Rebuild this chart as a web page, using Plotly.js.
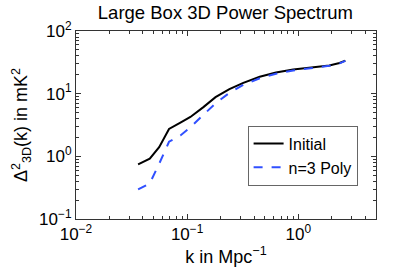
<!DOCTYPE html>
<html>
<head>
<meta charset="utf-8">
<script src="https://cdn.plot.ly/plotly-3.0.1.min.js"></script>
<style>html,body{margin:0;padding:0;background:#fff;}</style>
</head>
<body>
<div id="chart" style="width:415px;height:272px;"></div>
<script>
// k in Mpc^-1
const k = [0.0362, 0.0461, 0.0560, 0.0687, 0.0870, 0.107, 0.14, 0.18, 0.24, 0.32, 0.45, 0.63, 0.90, 1.30, 1.90, 2.35, 2.65];
// Delta^2_3D(k) in mK^2
const initialVals = [0.745, 0.916, 1.40, 2.73, 3.45, 4.25, 6.1, 8.8, 11.8, 14.9, 18.6, 21.8, 24.3, 26.0, 28.2, 30.8, 33.6];
const polyVals = [0.296, 0.370, 0.76, 1.71, 2.15, 2.9, 4.6, 7.0, 10.3, 13.8, 17.6, 20.8, 23.5, 25.5, 27.8, 30.4, 33.3];

const seriesNames = ['Initial', 'n=3 Poly'];
const xTickVals = [0.01, 0.1, 1];
const xTickText = ['10<sup>\u22122</sup>', '10<sup>\u22121</sup>', '10<sup>0</sup>'];
const yTickVals = [0.1, 1, 10, 100];
const yTickText = ['10<sup>\u22121</sup>', '10<sup>0</sup>', '10<sup>1</sup>', '10<sup>2</sup>'];

function minorTicks(lo, hi) {
  const out = [];
  for (let e = lo; e < hi; e++) {
    for (let m = 2; m <= 9; m++) out.push(m * Math.pow(10, e));
  }
  return out;
}

const fam = 'Liberation Sans, Arial, Helvetica, sans-serif';
const font = {family: fam, size: 17, color: '#000'};
const titleFont = {family: fam, size: 18.5, color: '#000'};
const labelFont = {family: fam, size: 18, color: '#000'};
const axColor = '#333';

const traces = [
  {x: k, y: initialVals, name: seriesNames[0], mode: 'lines', type: 'scatter',
   line: {color: '#000000', width: 2}},
  {x: k, y: polyVals, name: seriesNames[1], mode: 'lines', type: 'scatter',
   line: {color: '#3050ff', width: 2, dash: 'dash'}}
];

const axisCommon = {
  type: 'log', showgrid: false, zeroline: false,
  showline: true, linecolor: axColor, linewidth: 1, mirror: 'allticks',
  ticks: 'inside', ticklen: 5, tickcolor: axColor, tickwidth: 1,
  tickfont: font, tickmode: 'array'
};

const layout = {
  width: 415, height: 272,
  margin: {l: 76, r: 39, t: 31, b: 53},
  paper_bgcolor: '#fff', plot_bgcolor: '#fff',
  font: font,
  showlegend: true,
  title: {text: 'Large Box 3D Power Spectrum', font: titleFont,
          x: 0.543, xanchor: 'center', y: 0.955, yanchor: 'middle', yref: 'container'},
  xaxis: Object.assign({}, axisCommon, {
    range: [-2, Math.log10(5)],
    tickvals: xTickVals, ticktext: xTickText,
    minor: {tickmode: 'array', tickvals: minorTicks(-2, 1), ticks: 'inside', ticklen: 3, tickcolor: axColor, showgrid: false},
    title: {text: 'k in Mpc<sup>\u22121</sup>', font: labelFont, standoff: 4}
  }),
  yaxis: Object.assign({}, axisCommon, {
    range: [-1, 2],
    tickvals: yTickVals, ticktext: yTickText,
    minor: {tickmode: 'array', tickvals: minorTicks(-1, 2), ticks: 'inside', ticklen: 3, tickcolor: axColor, showgrid: false},
    title: {text: '\u0394<sup>2</sup><sub>3D</sub>(k) in mK<sup>2</sup>', font: labelFont, standoff: 6}
  }),
  legend: {
    x: 0.572, y: 0.497, xanchor: 'left', yanchor: 'top',
    bgcolor: '#fff', bordercolor: '#666', borderwidth: 1,
    font: {family: fam, size: 16, color: '#000'}, tracegroupgap: 0
  }
};

Plotly.newPlot('chart', traces, layout, {staticPlot: true, displayModeBar: false});
</script>
</body>
</html>
